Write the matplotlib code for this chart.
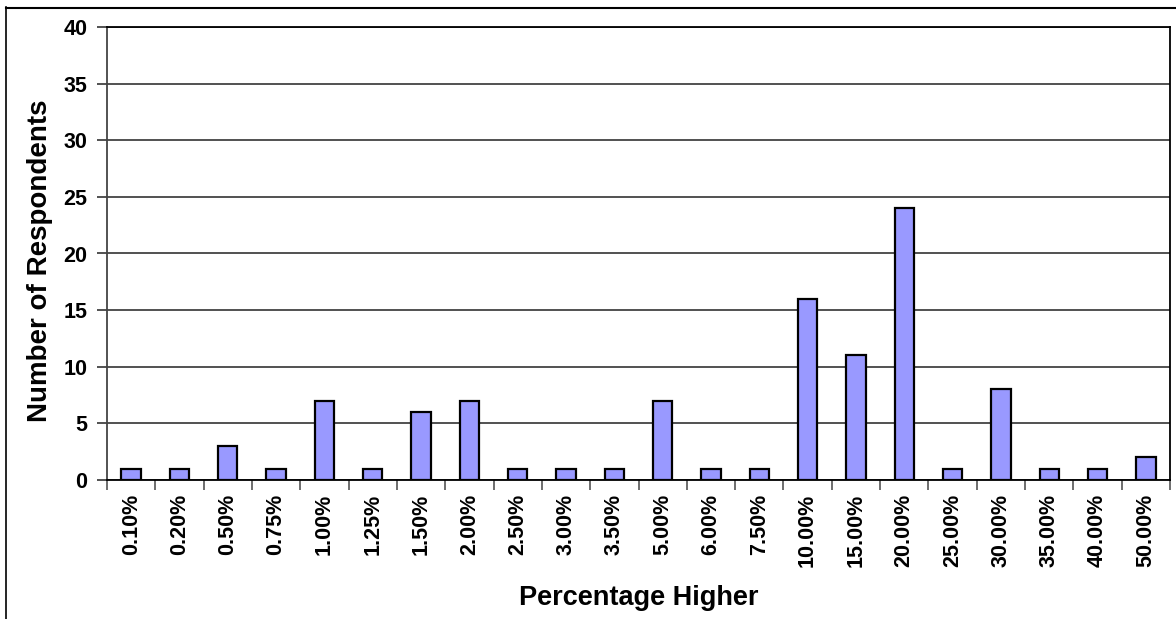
import numpy as np
import matplotlib.pyplot as plt
from matplotlib.lines import Line2D

plt.rcParams['font.family'] = ['Liberation Sans', 'DejaVu Sans']
plt.rcParams['font.weight'] = 'bold'

categories = ['0.10%', '0.20%', '0.50%', '0.75%', '1.00%', '1.25%', '1.50%', '2.00%',
              '2.50%', '3.00%', '3.50%', '5.00%', '6.00%', '7.50%', '10.00%', '15.00%',
              '20.00%', '25.00%', '30.00%', '35.00%', '40.00%', '50.00%']
respondents = [1, 1, 3, 1, 7, 1, 6, 7, 1, 1, 1, 7, 1, 1, 16, 11, 24, 1, 8, 1, 1, 2]
y_ticks = [0, 5, 10, 15, 20, 25, 30, 35, 40]

W, H = 1176, 619
fig = plt.figure(figsize=(W / 100, H / 100), dpi=100)
ax = fig.add_axes([107 / W, 1 - 480 / H, (1170 - 107) / W, (480 - 27) / H])

x = np.arange(len(categories))
ax.bar(x, respondents, width=0.4, color='#9999ff', edgecolor='black',
       linewidth=1.6, zorder=3)

ax.set_xlim(-0.5, len(categories) - 0.5)
ax.set_ylim(0, 40)
ax.set_yticks(y_ticks)
ax.set_yticklabels([str(v) for v in y_ticks], fontsize=15.5, fontweight='bold')
ax.yaxis.grid(True, color='#333333', linewidth=1.2, zorder=0)

# category labels sit between the boundary ticks
ax.set_xticks(x)
ax.set_xticklabels(categories, rotation=90, fontsize=15.5, fontweight='bold')
ax.tick_params(axis='x', length=0, pad=10)
ax.set_xticks(np.arange(len(categories) + 1) - 0.5, minor=True)
ax.tick_params(axis='x', which='minor', length=7, width=1.2, color='#555555')
ax.tick_params(axis='y', length=7, width=1.2, color='#333333', pad=7)

for side in ['left', 'bottom', 'right', 'top']:
    ax.spines[side].set_linewidth(1.3)
    ax.spines[side].set_color('black')
ax.spines['left'].set_color('#444444')

ax.set_ylabel('Number of Respondents', fontsize=20, fontweight='bold')
ax.set_xlabel('Percentage Higher', fontsize=19.5, fontweight='bold')
ax.yaxis.set_label_coords(-0.051, 0.484)
ax.xaxis.set_label_coords(0.5, -0.232)

# outer chart frame
fig.add_artist(Line2D([6 / W, 6 / W], [0, 1 - 7 / H], color='black', linewidth=1.2,
                      transform=fig.transFigure))
fig.add_artist(Line2D([6 / W, 1], [1 - 7.5 / H, 1 - 7.5 / H], color='black',
                      linewidth=1.5, transform=fig.transFigure))

fig.savefig('out.png', dpi=100)
